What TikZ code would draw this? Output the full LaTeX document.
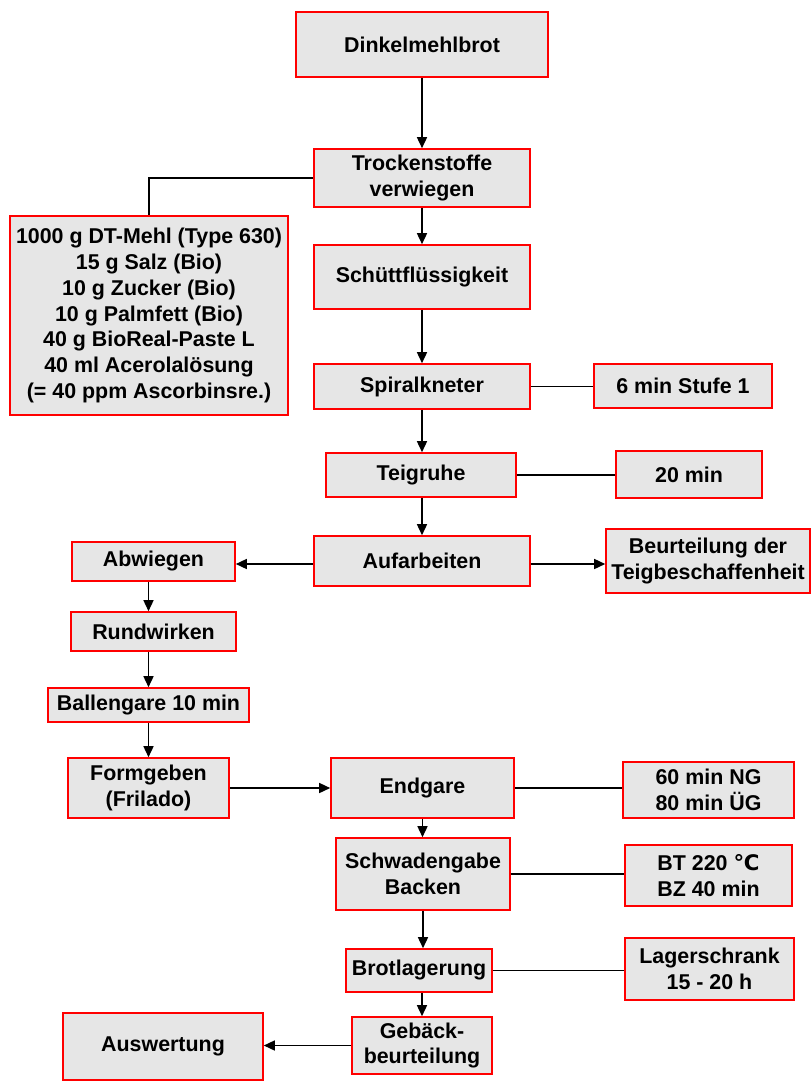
\documentclass[tikz,border=0pt]{standalone}
\usepackage{fontspec}
\setmainfont{Liberation Sans}
\newfontfamily\symfont{DejaVu Sans}
\usetikzlibrary{arrows.meta}
\definecolor{boxfill}{HTML}{E6E6E6}
\definecolor{boxline}{HTML}{FF0000}
\begin{document}
\begin{tikzpicture}[x=1pt,y=-1pt,
  box/.style={draw=boxline,fill=boxfill,line width=1.6pt,align=center,inner sep=0pt,
    font=\fontsize{21.4}{25.7}\selectfont\bfseries},
  link/.style={draw=black,line width=1.5pt},
  arr/.style={link,-{Triangle[length=11pt,width=10pt]}}]
\useasboundingbox (0,0) rectangle (811,1084);
% main column
\node[box,minimum width=252pt,minimum height=65pt] (dink) at (422,44.5) {Dinkelmehlbrot};
\node[box,minimum width=216pt,minimum height=58pt] (trock) at (422,178) {Trockenstoffe\\verwiegen};
\node[box,minimum width=278pt,minimum height=199pt] (ingr) at (149,315.5) {1000 g DT-Mehl (Type 630)\\15 g Salz (Bio)\\10 g Zucker (Bio)\\10 g Palmfett (Bio)\\40 g BioReal-Paste L\\40 ml Acerolalösung\\(= 40 ppm Ascorbinsre.)};
\node[box,minimum width=216pt,minimum height=64pt] (schuett) at (422,277) {Schüttflüssigkeit};
\node[box,minimum width=216pt,minimum height=45pt] (spiral) at (422,386.5) {Spiralkneter};
\node[box,minimum width=178pt,minimum height=44pt] (stufe) at (683,386) {6 min Stufe 1};
\node[box,minimum width=190pt,minimum height=44pt] (ruhe) at (421,475) {Teigruhe};
\node[box,minimum width=146pt,minimum height=47pt] (zwanzig) at (689,474.5) {20 min};
\node[box,minimum width=216pt,minimum height=50pt] (aufarb) at (422,561) {Aufarbeiten};
\node[box,minimum width=204pt,minimum height=64pt] (beurt) at (708,561) {Beurteilung der\\Teigbeschaffenheit};
% left column
\node[box,minimum width=163pt,minimum height=39pt] (abwieg) at (153.5,561.5) {Abwiegen};
\node[box,minimum width=165pt,minimum height=39pt] (rund) at (153.5,631.5) {Rundwirken};
\node[box,minimum width=201pt,minimum height=34pt] (ballen) at (148.5,705) {Ballengare 10 min};
\node[box,minimum width=161pt,minimum height=60pt] (form) at (148.5,788) {Formgeben\\(Frilado)};
% lower part
\node[box,minimum width=183pt,minimum height=60pt] (endg) at (422.5,788) {Endgare};
\node[box,minimum width=171pt,minimum height=56pt] (ng) at (708.5,790) {60 min NG\\80 min ÜG};
\node[box,minimum width=174pt,minimum height=72pt] (schwaden) at (423,874) {Schwadengabe\\Backen};
\node[box,minimum width=167pt,minimum height=61pt] (bt) at (708.5,875.5) {BT 220 {\symfont ℃}\\BZ 40 min};
\node[box,minimum width=146pt,minimum height=43pt] (brot) at (419,970.5) {Brotlagerung};
\node[box,minimum width=169pt,minimum height=62pt] (lager) at (709.5,969) {Lagerschrank\\15 - 20 h};
\node[box,minimum width=140pt,minimum height=57pt] (geb) at (422,1045.5) {Gebäck-\\beurteilung};
\node[box,minimum width=200pt,minimum height=67pt] (ausw) at (163,1046.5) {Auswertung};
% connectors
\draw[arr] (dink.south) -- (dink.south |- trock.north);
\draw[link] (trock.west) -| (ingr.north);
\draw[arr] (trock.south) -- (trock.south |- schuett.north);
\draw[arr] (schuett.south) -- (schuett.south |- spiral.north);
\draw[link] (spiral.east) -- (spiral.east -| stufe.west);
\draw[arr] (spiral.south) -- (spiral.south |- ruhe.north);
\draw[link] (ruhe.east) -- (ruhe.east -| zwanzig.west);
\draw[arr] (ruhe.south -| spiral.south) -- (spiral.south |- aufarb.north);
\draw[arr] ([yshift=-3pt]aufarb.west) -- ([yshift=-3pt]aufarb.west -| abwieg.east);
\draw[arr] ([yshift=-3pt]aufarb.east) -- ([yshift=-3pt]aufarb.east -| beurt.west);
\draw[arr] (abwieg.south -| ballen.center) -- (ballen.center |- rund.north);
\draw[arr] (rund.south -| ballen.center) -- (ballen.north);
\draw[arr] (ballen.south) -- (ballen.south |- form.north);
\draw[arr] (form.east) -- (form.east -| endg.west);
\draw[link] (endg.east) -- (endg.east -| ng.west);
\draw[arr] (endg.south) -- (endg.south |- schwaden.north);
\draw[link] (schwaden.east) -- (schwaden.east -| bt.west);
\draw[arr] (schwaden.south) -- (schwaden.south |- brot.north);
\draw[link] (brot.east) -- (brot.east -| lager.west);
\draw[arr] (brot.south -| geb.center) -- (geb.north);
\draw[arr] (geb.west) -- (geb.west -| ausw.east);
\end{tikzpicture}
\end{document}
